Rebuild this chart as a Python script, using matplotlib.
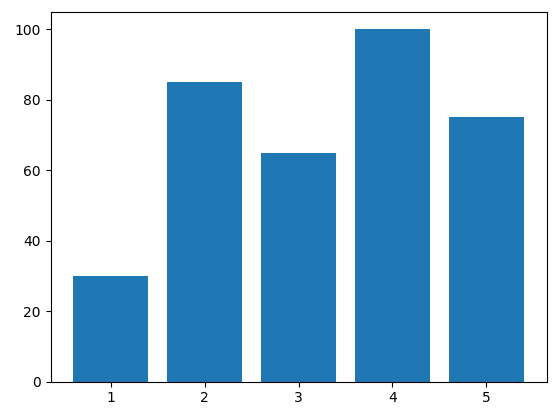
import matplotlib
matplotlib.use("Agg")
import matplotlib.pyplot as plt

# Дані
categories = [1, 2, 3, 4, 5]
values = [30, 85, 65, 100, 75]

fig = plt.figure(figsize=(5.57, 4.16), dpi=100)
ax = fig.add_axes([50.5 / 557, 34.5 / 416, 496 / 557, 369.6 / 416])
ax.bar(categories, values)
fig.savefig("out.png", dpi=100)
